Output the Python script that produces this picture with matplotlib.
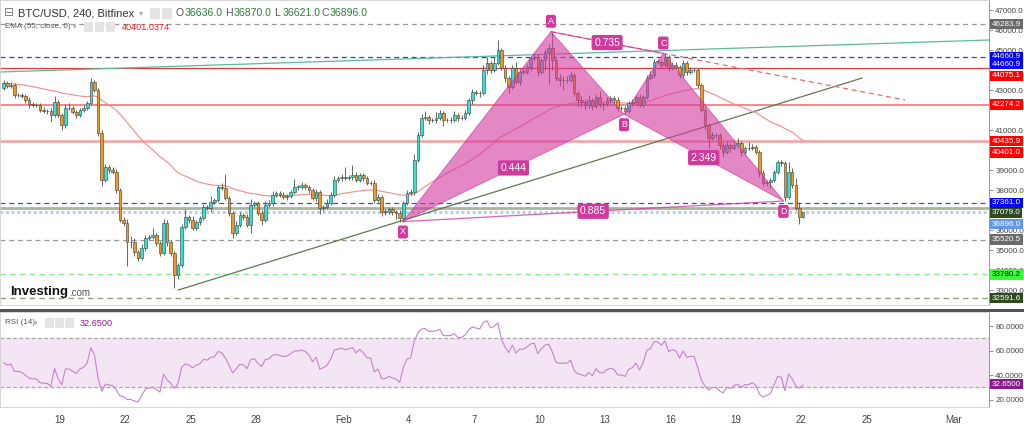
import numpy as np
import pandas as pd
import matplotlib
matplotlib.use("Agg")
import matplotlib.pyplot as plt
from matplotlib.patches import Polygon, Rectangle
import matplotlib.transforms as mtrans

# ---- data (4h candles, BTC/USD Bitfinex) ----
first_open = 43080
closes = [
    43330, 43200, 43250, 42750, 42750, 42700, 42500, 42300, 42250, 42250,
    42000, 41950, 41950, 41750, 42420, 41750, 41250, 42080, 42080, 41920,
    41750, 42000, 42080, 42330, 43420, 43000, 40830, 38500, 39170, 39000,
    38900, 38000, 36500, 36330, 35420, 35400, 34920, 34580, 35080, 35580,
    35670, 35750, 35330, 34830, 36330, 35420, 34830, 33750, 34250, 36170,
    36670, 36500, 36080, 36420, 36580, 37170, 37080, 37420, 37500, 38170,
    38080, 37580, 36830, 35830, 36250, 36750, 36670, 36250, 37250, 37330,
    36830, 36500, 37250, 37330, 37750, 37830, 37750, 37670, 37700, 37920,
    38170, 38170, 38250, 38170, 38000, 37580, 37900, 37080, 37170, 37330,
    37750, 38500, 38580, 38670, 38580, 38670, 38750, 38500, 38750, 38580,
    38330, 38330, 37500, 37670, 36920, 36920, 37030, 36920, 36830, 36580,
    37330, 37830, 37920, 39500, 40750, 41580, 41670, 41500, 41500, 41580,
    41830, 41500, 41500, 41500, 41750, 41580, 41580, 41830, 42500, 42920,
    42870, 42830, 44000, 44330, 44000, 44330, 45000, 44080, 43580, 43170,
    44080, 43420, 43920, 43920, 44170, 44580, 44670, 43920, 44500, 44920,
    45080, 44500, 43580, 43500, 43500, 43500, 43750, 42830, 42500, 42420,
    42250, 42500, 42200, 42670, 42300, 42300, 42500, 42580, 42500, 42080,
    42080, 41970, 42330, 42420, 42670, 42250, 42670, 43580, 43750, 44420,
    44420, 44250, 44670, 44080, 44250, 44170, 43750, 44330, 43920, 44000,
    44000, 43250, 42000, 41250, 40580, 40750, 40750, 40250, 39920, 40250,
    40080, 40250, 40330, 39920, 40080, 40080, 40170, 39920, 38830, 38330,
    38420, 38500, 38920, 39420, 39330, 37670, 38920, 38250, 37080, 36636,
    36896,
]
wick_up = [
    150, 100, 150, 100, 100, 100, 100, 150, 100, 100,
    100, 150, 100, 150, 300, 100, 100, 200, 250, 100,
    100, 100, 150, 100, 160, 100, 100, 150, 150, 100,
    150, 150, 100, 150, 200, 300, 200, 100, 200, 150,
    100, 350, 100, 100, 200, 150, 100, 100, 100, 150,
    400, 100, 200, 100, 100, 150, 100, 300, 100, 100,
    200, 700, 100, 100, 200, 150, 100, 150, 300, 100,
    100, 150, 200, 150, 200, 100, 100, 150, 100, 100,
    400, 100, 150, 100, 100, 100, 150, 100, 100, 200,
    150, 200, 100, 150, 500, 100, 500, 150, 100, 100,
    100, 100, 150, 150, 100, 150, 100, 100, 100, 150,
    100, 150, 150, 300, 150, 200, 300, 100, 100, 300,
    150, 100, 100, 150, 200, 100, 150, 150, 100, 150,
    100, 100, 250, 300, 100, 300, 500, 100, 150, 100,
    150, 300, 150, 200, 150, 100, 200, 150, 100, 150,
    200, 820, 100, 200, 200, 200, 200, 100, 100, 200,
    150, 250, 100, 150, 300, 100, 150, 100, 100, 150,
    100, 100, 100, 150, 100, 150, 100, 150, 200, 150,
    150, 100, 160, 100, 150, 150, 100, 150, 100, 150,
    100, 100, 100, 150, 100, 150, 100, 100, 100, 200,
    100, 150, 250, 100, 100, 300, 150, 100, 100, 150,
    100, 100, 100, 100, 100, 100, 500, 200, 350, 300,
    20,
]
wick_dn = [
    100, 100, 100, 150, 100, 100, 150, 200, 100, 100,
    100, 100, 150, 350, 100, 100, 250, 150, 100, 100,
    150, 100, 100, 100, 100, 100, 150, 300, 100, 150,
    100, 150, 100, 150, 1200, 300, 200, 150, 100, 150,
    100, 100, 150, 150, 100, 200, 150, 670, 200, 100,
    100, 150, 100, 100, 150, 100, 100, 200, 100, 100,
    100, 100, 150, 250, 100, 100, 150, 100, 400, 100,
    100, 250, 100, 100, 150, 100, 100, 100, 150, 100,
    100, 150, 100, 100, 150, 100, 150, 300, 150, 100,
    100, 100, 100, 150, 100, 100, 150, 100, 100, 150,
    100, 100, 150, 100, 200, 150, 100, 150, 300, 200,
    180, 100, 100, 150, 100, 100, 100, 200, 100, 150,
    100, 300, 100, 150, 100, 150, 100, 100, 100, 200,
    100, 200, 100, 200, 150, 100, 100, 100, 200, 300,
    100, 100, 150, 100, 100, 200, 150, 200, 100, 500,
    1600, 500, 150, 300, 500, 150, 100, 150, 300, 250,
    200, 150, 200, 100, 150, 300, 100, 150, 200, 150,
    100, 190, 100, 150, 150, 100, 100, 100, 100, 150,
    100, 150, 100, 150, 100, 100, 150, 100, 150, 100,
    100, 150, 100, 250, 500, 100, 150, 200, 250, 100,
    200, 100, 150, 200, 150, 100, 100, 100, 200, 150,
    150, 300, 100, 100, 150, 220, 100, 150, 100, 350,
    15,
]

# harmonic pattern points X, A, B, C, D (day of year 2022, price)
pat_names = ["X", "A", "B", "C", "D"]
pat_days = [34.73, 41.52, 44.87, 46.67, 52.18]
pat_prices = [36420, 45915, 41785, 44830, 37450]
ratio_labels = ["0.444", "0.735", "2.349", "0.885"]

trend_days = [24.43, 55.79]
trend_prices = [33000, 43600]
channel_days = [16.25, 61.61]
channel_prices = [43900, 45500]
proj_days = [41.52, 57.76]
proj_prices = [45915, 42500]

badge_text = ["46283.9", "44660.9", "44660.9", "44075.1", "42274.2", "40435.9",
              "40401.0", "37361.0", "37079.0", "36896.0", "35520.5", "33780.2", "32591.6"]
badge_price = [46283.9, 44660.9, 44660.9, 44075.1, 42274.2, 40435.9,
               40401.0, 37361.0, 37079.0, 36896.0, 35520.5, 33780.2, 32591.6]

price_ticks = [33000, 34000, 35000, 36000, 38000, 39000, 41000, 43000, 45000, 46000, 47000]
xtick_days = [19, 22, 25, 28, 32, 35, 38, 41, 44, 47, 50, 53, 56, 60]
xtick_labels = ["19", "22", "25", "28", "Feb", "4", "7", "10", "13", "16", "19", "22", "25", "Mar"]

ohlc_last = ["36636.0", "36870.0", "36621.0", "36896.0"]
ema_last = "40401.0374"
rsi_last = "32.6500"

# ---- figure ----
W, H = 1024, 430
plt.rcParams['font.family'] = ['Liberation Sans', 'DejaVu Sans']
fig = plt.figure(figsize=(W / 100, H / 100), dpi=100)
ax = fig.add_axes([0, 1 - 305 / H, 989 / W, 305 / H])
rx = fig.add_axes([0, 1 - 407 / H, 989 / W, 95 / H], sharex=ax)

def fx(px):
    return px / W

def fy(py):
    return 1 - py / H

c = np.array(closes, float)
o = np.r_[first_open, c[:-1]]
hi = np.maximum(o, c) + np.array(wick_up)
lo = np.minimum(o, c) - np.array(wick_dn)
t = 16 + 8 / 24 + (np.arange(len(c)) + 0.5) / 6
up = c >= o

# horizontal levels
ax.axhline(46283.9, color='#9a9a9a', ls=(0, (4, 3)), lw=0.9, zorder=1)
ax.axhline(44660.9, color='#2740e8', ls=(0, (4, 3)), lw=0.9, zorder=1)
ax.axhline(44075.1, color='#e03a3a', lw=0.9, zorder=1)
ax.axhline(42274.2, color='#ec6a6a', lw=1.1, zorder=1)
ax.axhline(40435.9, color='#f5a3a3', lw=1.9, zorder=1)
ax.axhline(37361.0, color='#3348ee', ls=(0, (4, 3)), lw=0.9, zorder=1)
ax.axhline(37079.0, color='#a9b59c', lw=2.0, zorder=1)
ax.axhline(36896.0, color='#b4c8f0', ls=(0, (1, 1)), lw=2.0, zorder=1)
ax.axhline(35520.5, color='#9a9a9a', ls=(0, (4, 3)), lw=0.9, zorder=1)
ax.axhline(33780.2, color='#8ee88e', ls=(0, (4, 3)), lw=1.0, zorder=1)
ax.axhline(32591.6, color='#8f9f80', ls=(0, (4, 3)), lw=1.0, zorder=1)

ax.plot(channel_days, channel_prices, color='#5fb89c', lw=0.9, zorder=2)
ax.plot(trend_days, trend_prices, color='#5f7a4f', lw=0.9, zorder=2)

ema = pd.Series(c).ewm(span=55, adjust=False).mean()
ax.plot(t, ema, color='#f28c8c', lw=0.8, zorder=2)

# candles
ax.vlines(t, lo, hi, color='#5d6a5c', lw=0.7, zorder=3)
ax.bar(t, np.where(np.abs(c - o) < 20, 20, c - o), bottom=o, width=0.12,
       color=np.where(up, '#2fe3d2', '#f7951f'), edgecolor='#3b3b3b',
       linewidth=0.4, zorder=4)

# harmonic pattern
pk = '#d2399f'
P = list(zip(pat_days, pat_prices))
ax.add_patch(Polygon([P[0], P[1], P[2]], closed=True, fc=pk, ec=pk, alpha=0.6, lw=0.8, zorder=5))
ax.add_patch(Polygon([P[2], P[3], P[4]], closed=True, fc=pk, ec=pk, alpha=0.6, lw=0.8, zorder=5))
ax.plot(proj_days, proj_prices, color='#f06a6a', ls=(0, (4, 3)), lw=0.9, zorder=5)
for a, b in [(0, 4), (1, 3)]:
    ax.plot([pat_days[a], pat_days[b]], [pat_prices[a], pat_prices[b]], color=pk, lw=0.9, alpha=0.8, zorder=5)
box = dict(boxstyle='round,pad=0.25,rounding_size=0.2', fc='#d2399f', ec='none')
for lbl, (a, b) in zip(ratio_labels, [(0, 2), (1, 3), (2, 4), (0, 4)]):
    ax.text((pat_days[a] + pat_days[b]) / 2, (pat_prices[a] + pat_prices[b]) / 2, lbl,
            ha='center', va='center', fontsize=7.5, color='white', bbox=box, zorder=7)
letter_dy = [-9, 9, -9, 9, -9]
for name, d, p, dy in zip(pat_names, pat_days, pat_prices, letter_dy):
    ax.annotate(name, (d, p), xytext=(0, dy * 0.72 + (-1 if dy < 0 else 1)), textcoords='offset points',
                ha='center', va='center', fontsize=6.5, color='white',
                bbox=dict(boxstyle='round,pad=0.22', fc='#d2399f', ec='none'), zorder=7)

ax.set_xlim(16.25, 61.61)
ax.set_ylim(32250, 47500)
ax.yaxis.tick_right()
ax.set_yticks(price_ticks)
ax.set_yticklabels([f"{v:.1f}" for v in price_ticks])
ax.tick_params(axis='y', labelsize=5.8, labelcolor='#444', color='#999', length=3, pad=1.5)
ax.tick_params(axis='x', bottom=False, labelbottom=False)
for s in ax.spines.values():
    s.set_color('#d0d0d0')
    s.set_linewidth(0.6)
ax.spines['right'].set_color('#888')

# price badges
btrans = mtrans.blended_transform_factory(ax.transAxes, ax.transData)
badge_bg = ['#6a6a6a', '#0000ff', '#0000ff', '#ff0000', '#ff0000', '#ff0000',
            '#ff0000', '#0000ff', '#2f4a1f', '#6496ec', '#6a6a6a', '#33ff33', '#2f4a1f']
badge_dy = [0, 0, -7.5, -7.5, 0, 0, -10.5, 0, -4.5, -12, 0, 0, 0]
for txt, p, bg, dy in zip(badge_text, badge_price, badge_bg, badge_dy):
    ax.annotate(txt, (1, p), xycoords=btrans, xytext=(2.2, dy * 0.72), textcoords='offset points',
                ha='left', va='center', fontsize=5.8,
                color='black' if bg == '#33ff33' else 'white',
                bbox=dict(boxstyle='square,pad=0.2', fc=bg, ec='none'),
                annotation_clip=False, zorder=10)

# RSI panel (Wilder smoothing, seeded neutral)
delta = np.diff(c)
avg_g = avg_l = 150.0
rsi = [50.0]
for d in delta:
    avg_g = (avg_g * 13 + max(d, 0)) / 14
    avg_l = (avg_l * 13 + max(-d, 0)) / 14
    rsi.append(100 - 100 / (1 + avg_g / avg_l))
rx.axhspan(30, 70, color='#f3e5f3', zorder=0)
rx.axhline(70, color='#aaaaaa', ls=(0, (3, 2)), lw=0.9)
rx.axhline(30, color='#aaaaaa', ls=(0, (3, 2)), lw=0.9)
rx.plot(t, rsi, color='#c683cc', lw=0.8)
rx.set_ylim(14.1, 91.4)
rx.yaxis.tick_right()
rx.set_yticks([20, 40, 60, 80])
rx.set_yticklabels([f"{v:.4f}" for v in [20, 40, 60, 80]])
rx.tick_params(axis='y', labelsize=5.8, labelcolor='#444', color='#999', length=3, pad=1.5)
rx.set_xticks(xtick_days)
rx.set_xticklabels(xtick_labels)
rx.tick_params(axis='x', labelsize=7, labelcolor='#444', length=0, pad=6)
for s in rx.spines.values():
    s.set_color('#d0d0d0')
    s.set_linewidth(0.6)
rx.spines['right'].set_color('#888')
rx.annotate(rsi_last, (1, float(rsi_last)), xycoords=mtrans.blended_transform_factory(rx.transAxes, rx.transData),
            xytext=(2.2, 0), textcoords='offset points', ha='left', va='center', fontsize=5.8,
            color='white', bbox=dict(boxstyle='square,pad=0.2', fc='#8b1a8b', ec='none'),
            annotation_clip=False, zorder=10)

# panel separator
fig.add_artist(Rectangle((0, fy(312)), 1, 3 / H, transform=fig.transFigure, fc='#555555', ec='none'))

# header texts
fig.text(fx(4), fy(13), "\u229f", fontsize=8.5, color='#777', va='center', family=['DejaVu Sans'])
fig.text(fx(18), fy(13), "BTC/USD, 240, Bitfinex", fontsize=8, color='#333', va='center')
fig.text(fx(139), fy(13), "\u25be", fontsize=6, color='#aaa', va='center', family=['DejaVu Sans'])
for px in [150, 162]:
    fig.add_artist(Rectangle((fx(px), fy(19)), 10 / W, 11 / H, transform=fig.transFigure, fc='#e4e4e4', ec='none'))
for letter, val, px in zip("OHLC", ohlc_last, [176, 225, 274, 321]):
    fig.text(fx(px), fy(13), letter, fontsize=7.6, color='#555', va='center')
    fig.text(fx(px + 9), fy(13), val, fontsize=7.6, color='#2e7d3a', va='center')
fig.text(fx(5), fy(27), "EMA (55, close, 0)", fontsize=5.8, color='#555', va='center')
fig.text(fx(73), fy(27), "\u25be", fontsize=5, color='#aaa', va='center', family=['DejaVu Sans'])
for px in [84, 95, 106]:
    fig.add_artist(Rectangle((fx(px), fy(32)), 9 / W, 10 / H, transform=fig.transFigure, fc='#e4e4e4', ec='none'))
fig.text(fx(122), fy(27), ema_last, fontsize=6.6, color='#ff2020', va='center')
fig.text(fx(5), fy(323), "RSI (14)", fontsize=5.8, color='#555', va='center')
fig.text(fx(34), fy(323), "\u25be", fontsize=5, color='#aaa', va='center', family=['DejaVu Sans'])
for px in [45, 55, 65]:
    fig.add_artist(Rectangle((fx(px), fy(328)), 9 / W, 10 / H, transform=fig.transFigure, fc='#e4e4e4', ec='none'))
fig.text(fx(80), fy(323), rsi_last, fontsize=6.6, color='#8b1a8b', va='center')

# watermark
fig.text(fx(10), fy(292), "Investing", fontsize=9.5, weight='bold', color='#111', va='center')
fig.text(fx(69), fy(293.5), ".com", fontsize=7, color='#555', va='center')

fig.savefig("out.png", dpi=100, facecolor='white')
